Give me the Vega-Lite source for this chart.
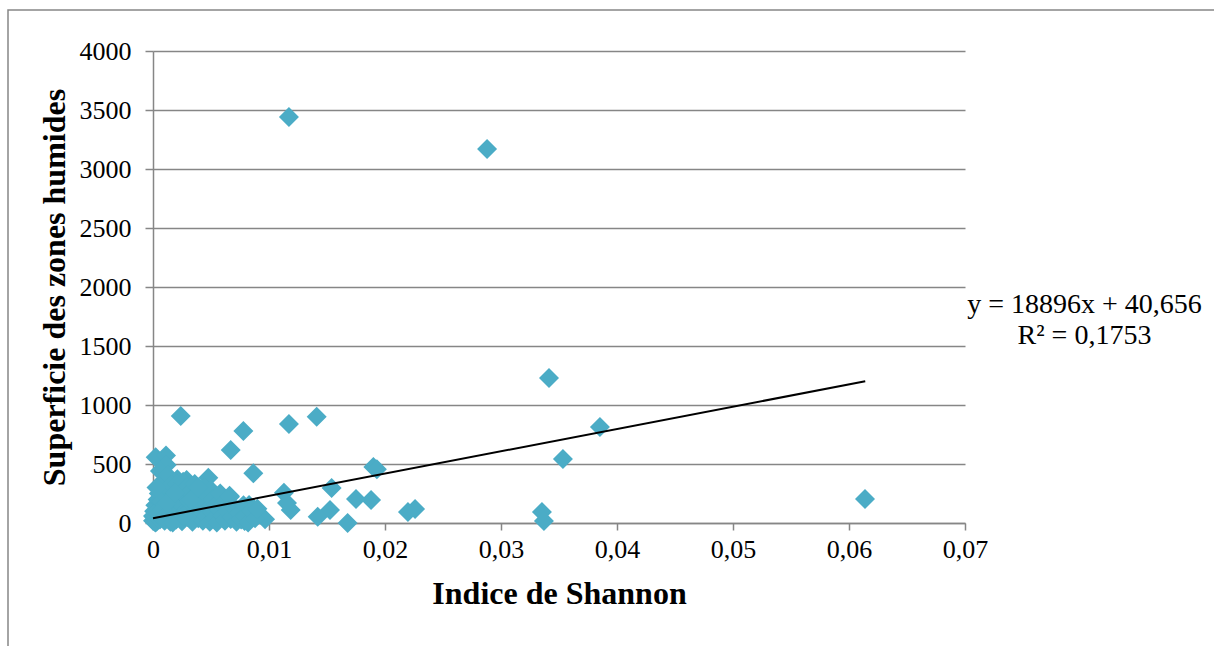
{
  "$schema": "https://vega.github.io/schema/vega-lite/v6.json",
  "width": 812,
  "height": 472,
  "autosize": "none",
  "padding": {"left": 153, "top": 51, "right": 249, "bottom": 123},
  "background": "white",
  "config": {
    "view": {"stroke": null},
    "axis": {
      "labelFont": "Liberation Serif",
      "labelFontSize": 26,
      "labelColor": "#000000",
      "titleFont": "Liberation Serif",
      "titleFontSize": 32,
      "titleFontWeight": "bold",
      "titleColor": "#000000",
      "domainColor": "#868686",
      "domainWidth": 1.5,
      "tickColor": "#868686",
      "tickWidth": 1.5,
      "gridColor": "#868686",
      "gridWidth": 1.5
    }
  },
  "datasets": {
    "frame": [{"x": -0.0125, "x2": 0.2, "y": 4347, "y2": -1300}],
    "trend": [{"x": 0, "y": 40.656}, {"x": 0.0614, "y": 1200.9}],
    "eq": [{"x": 0.0803, "y": 1780, "label": "y = 18896x + 40,656\nR² = 0,1753"}],
    "pts": [
      {"x": 0.01172, "y": 3441}, {"x": 0.0288, "y": 3170}, {"x": 0.03414, "y": 1229}, {"x": 0.03853, "y": 814},
      {"x": 0.03534, "y": 542}, {"x": 0.06138, "y": 203}, {"x": 0.03353, "y": 93}, {"x": 0.0337, "y": 17},
      {"x": 0.02259, "y": 119}, {"x": 0.02198, "y": 93}, {"x": 0.0190, "y": 475}, {"x": 0.0193, "y": 455},
      {"x": 0.0188, "y": 195}, {"x": 0.0175, "y": 203}, {"x": 0.0154, "y": 297}, {"x": 0.01526, "y": 110},
      {"x": 0.0142, "y": 53}, {"x": 0.01678, "y": 0}, {"x": 0.01172, "y": 839}, {"x": 0.01411, "y": 901},
      {"x": 0.01129, "y": 257}, {"x": 0.01187, "y": 110}, {"x": 0.01155, "y": 170}, {"x": 0.00239, "y": 907},
      {"x": 0.00779, "y": 780}, {"x": 0.0067, "y": 619}, {"x": 0.00865, "y": 421}, {"x": 0.00023, "y": 557},
      {"x": 0.00112, "y": 571}, {"x": 0.00118, "y": 492}, {"x": 0.00477, "y": 384}, {"x": 0.00966, "y": 31},
      {"x": 0.00664, "y": 223}, {"x": 0.00865, "y": 124}, {"x": 0.0029, "y": 364}, {"x": 0.0050, "y": 237},
      {"x": 0.00586, "y": 153}, {"x": 0.00733, "y": 110}, {"x": 0.00828, "y": 153}, {"x": 0.0079, "y": 17},
      {"x": 0.0067, "y": 34}, {"x": 0.0006, "y": 440}, {"x": 0.0015, "y": 360}, {"x": 0.0021, "y": 370},
      {"x": 0.0000, "y": 20}, {"x": 0.0001, "y": 50}, {"x": 0.0001, "y": 100}, {"x": 0.0002, "y": 150},
      {"x": 0.0000, "y": 60}, {"x": 0.0003, "y": 10}, {"x": 0.0002, "y": 5}, {"x": 0.0004, "y": 200},
      {"x": 0.0005, "y": 120}, {"x": 0.0006, "y": 30}, {"x": 0.0005, "y": 250}, {"x": 0.0007, "y": 180},
      {"x": 0.0008, "y": 80}, {"x": 0.0008, "y": 300}, {"x": 0.0009, "y": 350}, {"x": 0.0010, "y": 20},
      {"x": 0.0010, "y": 150}, {"x": 0.0011, "y": 230}, {"x": 0.0012, "y": 60}, {"x": 0.0013, "y": 400},
      {"x": 0.0013, "y": 110}, {"x": 0.0014, "y": 280}, {"x": 0.0015, "y": 10}, {"x": 0.0015, "y": 190},
      {"x": 0.0016, "y": 320}, {"x": 0.0017, "y": 70}, {"x": 0.0018, "y": 240}, {"x": 0.0019, "y": 140},
      {"x": 0.0020, "y": 30}, {"x": 0.0020, "y": 330}, {"x": 0.0021, "y": 200}, {"x": 0.0022, "y": 90},
      {"x": 0.0023, "y": 270}, {"x": 0.0024, "y": 160}, {"x": 0.0025, "y": 15}, {"x": 0.0026, "y": 350},
      {"x": 0.0027, "y": 230}, {"x": 0.0028, "y": 100}, {"x": 0.0029, "y": 300}, {"x": 0.0030, "y": 50},
      {"x": 0.0031, "y": 180}, {"x": 0.0032, "y": 260}, {"x": 0.0033, "y": 120}, {"x": 0.0034, "y": 10},
      {"x": 0.0035, "y": 220}, {"x": 0.0036, "y": 330}, {"x": 0.0037, "y": 80}, {"x": 0.0038, "y": 150},
      {"x": 0.0039, "y": 40}, {"x": 0.0040, "y": 260}, {"x": 0.0041, "y": 190}, {"x": 0.0042, "y": 100},
      {"x": 0.0043, "y": 20}, {"x": 0.0044, "y": 300}, {"x": 0.0045, "y": 170}, {"x": 0.0046, "y": 60},
      {"x": 0.0047, "y": 230}, {"x": 0.0048, "y": 120}, {"x": 0.0049, "y": 10}, {"x": 0.0050, "y": 280},
      {"x": 0.0051, "y": 90}, {"x": 0.0052, "y": 200}, {"x": 0.0053, "y": 40}, {"x": 0.0054, "y": 150},
      {"x": 0.0055, "y": 5}, {"x": 0.0057, "y": 110}, {"x": 0.0058, "y": 250}, {"x": 0.0060, "y": 60},
      {"x": 0.0061, "y": 170}, {"x": 0.0062, "y": 20}, {"x": 0.0064, "y": 100}, {"x": 0.0066, "y": 230},
      {"x": 0.0068, "y": 50}, {"x": 0.0070, "y": 130}, {"x": 0.0072, "y": 10}, {"x": 0.0074, "y": 80},
      {"x": 0.0076, "y": 30}, {"x": 0.0078, "y": 150}, {"x": 0.0080, "y": 60}, {"x": 0.0082, "y": 5},
      {"x": 0.0085, "y": 100}, {"x": 0.0088, "y": 40}, {"x": 0.0090, "y": 120}, {"x": 0.0003, "y": 300},
      {"x": 0.0004, "y": 80}, {"x": 0.0009, "y": 40}, {"x": 0.0012, "y": 170}, {"x": 0.0017, "y": 5},
      {"x": 0.0019, "y": 260}, {"x": 0.0026, "y": 60}, {"x": 0.0033, "y": 200}, {"x": 0.0039, "y": 300}
    ]
  },
  "layer": [
    {
      "data": {"name": "frame"},
      "mark": {"type": "rect", "fill": null, "stroke": "#868686", "strokeWidth": 1.5, "clip": false},
      "encoding": {
        "x": {"field": "x", "type": "quantitative", "scale": {"domain": [0, 0.07], "nice": false, "zero": false},
          "axis": {
            "values": [0, 0.01, 0.02, 0.03, 0.04, 0.05, 0.06, 0.07],
            "labelExpr": "replace(format(datum.value, '~g'), '.', ',')",
            "title": "Indice de Shannon",
            "grid": false,
            "tickSize": 7,
            "labelPadding": 6,
            "titlePadding": 16,
            "labelFlush": false
          }},
        "x2": {"field": "x2"},
        "y": {"field": "y", "type": "quantitative", "scale": {"domain": [0, 4000], "nice": false, "zero": false},
          "axis": {
            "values": [0, 500, 1000, 1500, 2000, 2500, 3000, 3500, 4000],
            "format": "d",
            "title": "Superficie des zones humides",
            "grid": true,
            "tickSize": 8,
            "labelPadding": 14,
            "titlePadding": 8,
            "labelFlush": false
          }},
        "y2": {"field": "y2"}
      }
    },
    {
      "data": {"name": "pts"},
      "mark": {"type": "point", "shape": "diamond", "filled": true, "size": 400, "color": "#4BACC6", "opacity": 1, "clip": false},
      "encoding": {
        "x": {"field": "x", "type": "quantitative"},
        "y": {"field": "y", "type": "quantitative"}
      }
    },
    {
      "data": {"name": "trend"},
      "mark": {"type": "line", "color": "#000000", "strokeWidth": 2},
      "encoding": {
        "x": {"field": "x", "type": "quantitative"},
        "y": {"field": "y", "type": "quantitative"}
      }
    },
    {
      "data": {"name": "eq"},
      "mark": {"type": "text", "font": "Liberation Serif", "fontSize": 28, "align": "center", "baseline": "alphabetic", "lineBreak": "\n", "lineHeight": 31, "color": "#000000", "clip": false},
      "encoding": {
        "x": {"field": "x", "type": "quantitative"},
        "y": {"field": "y", "type": "quantitative"},
        "text": {"field": "label"}
      }
    }
  ]
}
